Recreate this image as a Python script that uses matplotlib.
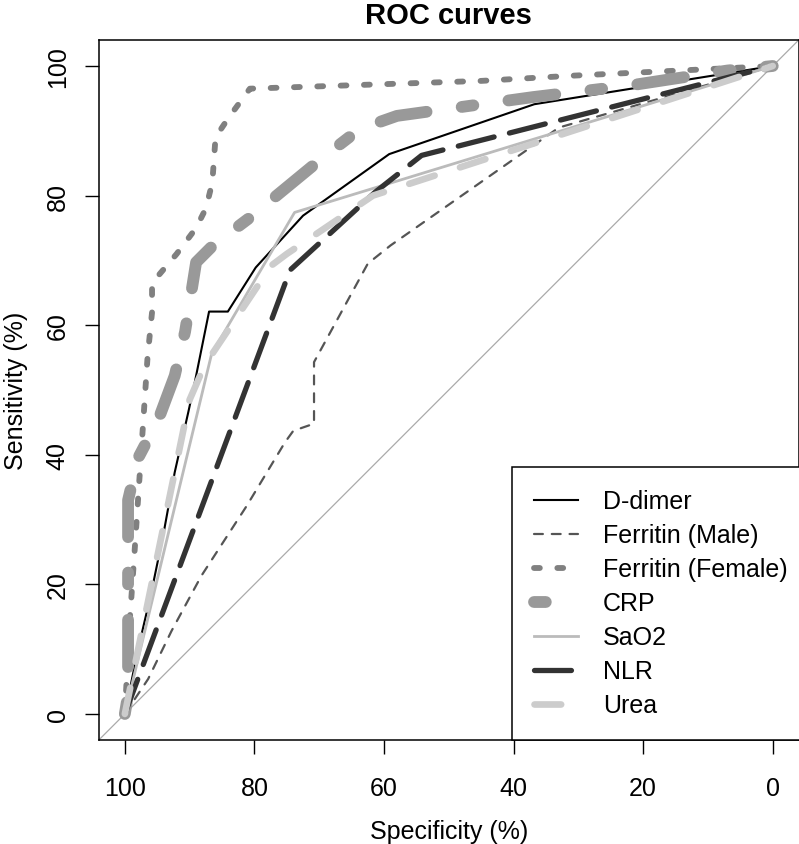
import matplotlib.pyplot as plt

plt.rcParams['font.family'] = ['Liberation Sans', 'DejaVu Sans']
plt.rcParams['font.size'] = 18

# ROC curve points: specificity (%) and sensitivity (%)
ddimer_spec = [100, 98, 95.9, 94, 92.3, 90.2, 89.2, 87, 84.1, 79.8, 72.5, 59.2, 36.8, 0]
ddimer_sens = [0, 9.8, 18.8, 28, 37.3, 46.6, 51.2, 62.1, 62.1, 68.9, 76.9, 86.4, 94.1, 100]

ferr_m_spec = [100, 96.4, 92.8, 88.2, 81.2, 75.3, 74, 70.8, 70.8, 62.5, 59, 33, 0]
ferr_m_sens = [0, 5.4, 12.8, 21.3, 32.1, 41.9, 43.7, 44.8, 54.3, 69.5, 72.3, 90.5, 100]

ferr_f_spec = [100, 99.2, 98.5, 97.5, 96.5, 95.8, 95.8, 92, 89, 87.5, 86.5, 86, 84, 80.7, 45, 31, 4, 0]
ferr_f_sens = [0, 15, 25, 40, 55, 62, 66.5, 71, 75, 78, 82, 89, 92, 96.5, 97.7, 98.5, 99.8, 100]

crp_spec = [100, 99.5, 99.5, 98, 94.8, 92.3, 90.7, 89, 86.4, 80.7, 69.4, 63.7, 58, 37, 22, 7, 0]
crp_sens = [0, 3, 33, 39.4, 45.5, 52.2, 59, 69.7, 72.3, 76.6, 85.9, 90.3, 92.3, 95.2, 97, 99.3, 100]

sao2_spec = [100, 86.6, 73.8, 0]
sao2_sens = [0, 55.6, 77.4, 100]

nlr_spec = [100, 74.5, 61.4, 54.2, 0]
nlr_sens = [0, 68.5, 80.5, 86.2, 100]

urea_spec = [100, 90, 87.7, 77.4, 75, 61.7, 0]
urea_sens = [0, 48.5, 53.8, 69.2, 71, 80, 100]

fig = plt.figure(figsize=(7.99, 8.45), dpi=100)
ax = fig.add_axes([0.1238, 0.1232, 0.8758, 0.8282])

ax.axline((100, 0), (0, 100), color='#aaaaaa', lw=0.9, zorder=1)

ax.plot(ddimer_spec, ddimer_sens, color='black', lw=1.5, label='D-dimer')
ax.plot(ferr_m_spec, ferr_m_sens, color='#555555', lw=1.6, dashes=(4, 4),
        dash_capstyle='round', label='Ferritin (Male)')
ax.plot(ferr_f_spec, ferr_f_sens, color='#808080', lw=4.2, dashes=(1, 3),
        dash_capstyle='round', label='Ferritin (Female)')
ax.plot(crp_spec, crp_sens, color='#999999', lw=8.5, dashes=(1, 3, 4, 3),
        dash_capstyle='round', solid_joinstyle='round', label='CRP')
ax.plot(sao2_spec, sao2_sens, color='#bbbbbb', lw=2, label='SaO2')
ax.plot(nlr_spec, nlr_sens, color='#333333', lw=3.8, dashes=(7, 3),
        dash_capstyle='round', label='NLR')
ax.plot(urea_spec, urea_sens, color='#cccccc', lw=4.8, dashes=(4, 4),
        dash_capstyle='round', label='Urea')

ax.set_xlim(104, -4)
ax.set_ylim(-4, 104)
ax.set_xticks([100, 80, 60, 40, 20, 0])
ax.set_yticks([0, 20, 40, 60, 80, 100])
ax.tick_params(length=10, width=1, color='black')
ax.tick_params(axis='x', pad=16)
ax.tick_params(axis='y', pad=11, labelrotation=90)
for lab in ax.get_yticklabels():
    lab.set_va('center')
for s in ax.spines.values():
    s.set_linewidth(1.1)

ax.set_title('ROC curves', fontweight='bold', fontsize=21, pad=12)
ax.set_xlabel('Specificity (%)', labelpad=14)
ax.set_ylabel('Sensitivity (%)', labelpad=13)

# legend sits in the lower right corner, its right side on the frame
leg = ax.legend(loc='lower right', bbox_to_anchor=(1.016, 0), borderaxespad=0,
                fancybox=False, edgecolor='black', framealpha=1,
                handlelength=1.75, handletextpad=1.0, labelspacing=0.4,
                borderpad=0.9)
leg.get_frame().set_linewidth(1.1)
leg.set_clip_on(False)

fig.savefig('out.png', dpi=100)
